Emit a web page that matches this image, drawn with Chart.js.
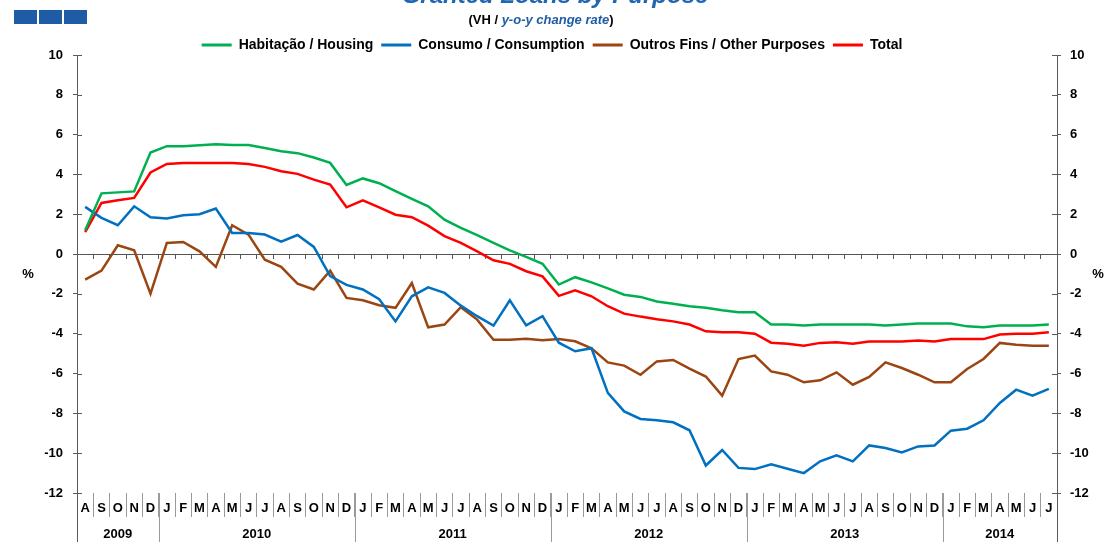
<!DOCTYPE html>
<html>
<head>
<meta charset="utf-8">
<script src="https://cdn.jsdelivr.net/npm/chart.js@4.4.1/dist/chart.umd.min.js"></script>
<style>
  html, body { margin: 0; padding: 0; background: #fff; }
  #wrap { width: 1104px; height: 542px; }
</style>
</head>
<body>
<div id="wrap"><canvas id="loansChart" width="1104" height="542"></canvas></div>
<script>
// Months Aug 2009 .. Jul 2014
const monthLabels = [
    'A','S','O','N','D',
    'J','F','M','A','M','J','J','A','S','O','N','D',
    'J','F','M','A','M','J','J','A','S','O','N','D',
    'J','F','M','A','M','J','J','A','S','O','N','D',
    'J','F','M','A','M','J','J','A','S','O','N','D',
    'J','F','M','A','M','J','J'
];
const yearLabels = ['2009', '2010', '2011', '2012', '2013', '2014'];
const yearSpans = [5, 12, 12, 12, 12, 7];

// y-o-y change rate, %
const housing = [
    1.2, 3.05, 3.1, 3.15, 5.1,
    5.42, 5.42, 5.47, 5.52, 5.48, 5.48, 5.33, 5.17, 5.07, 4.85, 4.58, 3.47,
    3.8, 3.56, 3.16, 2.77, 2.4, 1.73, 1.32, 0.95, 0.56, 0.19, -0.14, -0.49,
    -1.53, -1.16, -1.42, -1.72, -2.04, -2.15, -2.38, -2.49, -2.62, -2.7, -2.82, -2.92,
    -2.92, -3.54, -3.54, -3.59, -3.54, -3.54, -3.54, -3.54, -3.59, -3.54, -3.49, -3.49,
    -3.49, -3.63, -3.68, -3.59, -3.59, -3.59, -3.54
];
const consumption = [
    2.37, 1.82, 1.45, 2.4, 1.85,
    1.79, 1.95, 2.0, 2.29, 1.06, 1.06, 0.98, 0.63, 0.96, 0.36, -1.11, -1.55,
    -1.78, -2.27, -3.38, -2.12, -1.67, -1.95, -2.59, -3.12, -3.59, -2.32, -3.58, -3.12,
    -4.45, -4.88, -4.73, -6.97, -7.9, -8.28, -8.35, -8.45, -8.85, -10.62, -9.84, -10.74,
    -10.8, -10.56, -10.78, -11.0, -10.41, -10.11, -10.41, -9.61, -9.74, -9.96, -9.66, -9.61,
    -8.87, -8.77, -8.35, -7.48, -6.81, -7.11, -6.77
];
const otherPurposes = [
    -1.28, -0.83, 0.44, 0.19, -1.99,
    0.56, 0.61, 0.14, -0.64, 1.45, 0.98, -0.28, -0.64, -1.48, -1.78, -0.83, -2.2,
    -2.32, -2.57, -2.7, -1.45, -3.68, -3.54, -2.67, -3.29, -4.3, -4.3, -4.25, -4.33,
    -4.26, -4.38, -4.73, -5.44, -5.6, -6.06, -5.39, -5.32, -5.75, -6.15, -7.11, -5.27,
    -5.1, -5.89, -6.06, -6.44, -6.34, -5.94, -6.56, -6.17, -5.44, -5.72, -6.06, -6.44,
    -6.44, -5.77, -5.27, -4.46, -4.55, -4.6, -4.6
];
const total = [
    1.1, 2.57, 2.7, 2.82, 4.1,
    4.53, 4.58, 4.58, 4.58, 4.58, 4.53, 4.38, 4.16, 4.03, 3.74, 3.49, 2.35,
    2.7, 2.35, 1.98, 1.85, 1.43, 0.9, 0.56, 0.14, -0.31, -0.49, -0.86, -1.12,
    -2.1, -1.82, -2.12, -2.62, -2.99, -3.14, -3.27, -3.38, -3.54, -3.88, -3.93, -3.93,
    -4.0, -4.45, -4.5, -4.6, -4.46, -4.43, -4.5, -4.39, -4.39, -4.39, -4.34, -4.39,
    -4.27, -4.27, -4.27, -4.04, -4.0, -4.0, -3.93
];

const FONT = '"Liberation Sans", Arial, sans-serif';
const AXIS = '#5a5a5a';
const SEP = '#9a9a9a';
const DARK_BLUE = '#1f5ca5';

// ---- extra drawing: header, year row, % labels, inner y ticks ----
const decorations = {
    id: 'decorations',
    afterDraw(chart) {
        const ctx = chart.ctx;
        const area = chart.chartArea;
        const xs = chart.scales.x;
        const H = chart.height;
        ctx.save();

        // three blue blocks, top left
        ctx.fillStyle = DARK_BLUE;
        [14, 39, 64].forEach(left => ctx.fillRect(left, 10, 23, 14));

        // title (cut off by the top edge)
        ctx.fillStyle = '#1f66b3';
        ctx.font = 'italic bold 24px ' + FONT;
        ctx.textAlign = 'center';
        ctx.textBaseline = 'alphabetic';
        ctx.fillText('Granted Loans by Purpose', 555, 3);

        // subtitle with mixed styles
        const parts = [
            ['(VH / ', 'bold 13px ' + FONT, '#000'],
            ['y-o-y change rate', 'italic bold 13px ' + FONT, DARK_BLUE],
            [')', 'bold 13px ' + FONT, '#000']
        ];
        let w = 0;
        parts.forEach(p => { ctx.font = p[1]; w += ctx.measureText(p[0]).width; });
        let px = 541 - w / 2;
        ctx.textAlign = 'left';
        ctx.textBaseline = 'middle';
        parts.forEach(p => {
            ctx.font = p[1];
            ctx.fillStyle = p[2];
            ctx.fillText(p[0], px, 20);
            px += ctx.measureText(p[0]).width;
        });

        // y axes run down through the label rows
        ctx.strokeStyle = AXIS;
        ctx.lineWidth = 1;
        ctx.beginPath();
        [area.left, area.right].forEach(ax => {
            const a = Math.round(ax) + 0.5;
            ctx.moveTo(a, area.bottom);
            ctx.lineTo(a, H);
        });
        ctx.stroke();

        // inner half of the y tick marks
        ctx.beginPath();
        chart.scales.y.ticks.forEach(t => {
            const py = Math.round(chart.scales.y.getPixelForValue(t.value)) + 0.5;
            ctx.moveTo(area.left, py);
            ctx.lineTo(area.left + 5, py);
            ctx.moveTo(area.right - 5, py);
            ctx.lineTo(area.right, py);
        });
        ctx.stroke();

        // year separators and year labels
        const half = (xs.getPixelForValue(1) - xs.getPixelForValue(0)) / 2;
        ctx.strokeStyle = SEP;
        ctx.fillStyle = '#000';
        ctx.font = 'bold 13px ' + FONT;
        ctx.textAlign = 'center';
        ctx.textBaseline = 'middle';
        let idx = 0;
        yearLabels.forEach((yr, i) => {
            const x0 = xs.getPixelForValue(idx) - half;
            const x1 = xs.getPixelForValue(idx + yearSpans[i] - 1) + half;
            if (i > 0) {
                const sx = Math.round(x0) + 0.5;
                ctx.beginPath();
                ctx.moveTo(sx, area.bottom);
                ctx.lineTo(sx, H);
                ctx.stroke();
            }
            ctx.fillText(yr, (x0 + x1) / 2, 534);
            idx += yearSpans[i];
        });

        // % unit labels
        const midY = (area.top + area.bottom) / 2;
        ctx.fillText('%', 28, midY);
        ctx.fillText('%', 1098, midY);

        ctx.restore();
    }
};

const tickFont = { family: FONT, size: 13, weight: 'bold' };

new Chart(document.getElementById('loansChart'), {
    type: 'line',
    data: {
        labels: monthLabels,
        datasets: [
            { label: 'Habitação / Housing', data: housing, borderColor: '#00b050', backgroundColor: '#00b050' },
            { label: 'Consumo / Consumption', data: consumption, borderColor: '#0070c0', backgroundColor: '#0070c0' },
            { label: 'Outros Fins / Other Purposes', data: otherPurposes, borderColor: '#9a4512', backgroundColor: '#9a4512' },
            { label: 'Total', data: total, borderColor: '#ff0000', backgroundColor: '#ff0000' }
        ]
    },
    options: {
        responsive: false,
        animation: false,
        layout: { padding: { top: 30, left: 0, right: 0, bottom: 0 } },
        elements: {
            point: { radius: 0 },
            line: { borderWidth: 2.5, tension: 0 }
        },
        plugins: {
            legend: {
                position: 'top',
                maxHeight: 25,
                labels: {
                    boxWidth: 30,
                    boxHeight: 3,
                    padding: 8,
                    color: '#000',
                    font: { family: FONT, size: 14, weight: 'bold' },
                    generateLabels: chart => Chart.defaults.plugins.legend.labels.generateLabels(chart)
                        .map(item => Object.assign(item, { lineWidth: 0 }))
                }
            },
            tooltip: { enabled: false }
        },
        scales: {
            x: {
                position: 'bottom',
                offset: true,
                grid: { offset: true, drawOnChartArea: false, tickLength: 24, color: SEP },
                border: { display: false },
                ticks: { autoSkip: false, maxRotation: 0, padding: -16, color: '#000', font: tickFont },
                afterFit: s => { s.height = 49; }
            },
            // zero line with small tick marks
            x0: {
                type: 'category',
                axis: 'x',
                position: { y: 0 },
                offset: true,
                grid: { offset: true, drawOnChartArea: false, tickLength: 4, color: '#555' },
                border: { display: true, color: '#555', width: 1 },
                ticks: { display: false },
                afterFit: s => { s.height = 0; }
            },
            y: {
                position: 'left',
                min: -12,
                max: 10,
                ticks: { stepSize: 2, color: '#000', padding: 10, font: tickFont },
                grid: { drawOnChartArea: false, tickLength: 4, color: AXIS },
                border: { color: AXIS },
                afterFit: s => { s.width = 77; }
            },
            y2: {
                position: 'right',
                min: -12,
                max: 10,
                ticks: { stepSize: 2, color: '#000', padding: 9, font: tickFont },
                grid: { drawOnChartArea: false, tickLength: 4, color: AXIS },
                border: { color: AXIS },
                afterFit: s => { s.width = 47; }
            }
        }
    },
    plugins: [decorations]
});
</script>
</body>
</html>
